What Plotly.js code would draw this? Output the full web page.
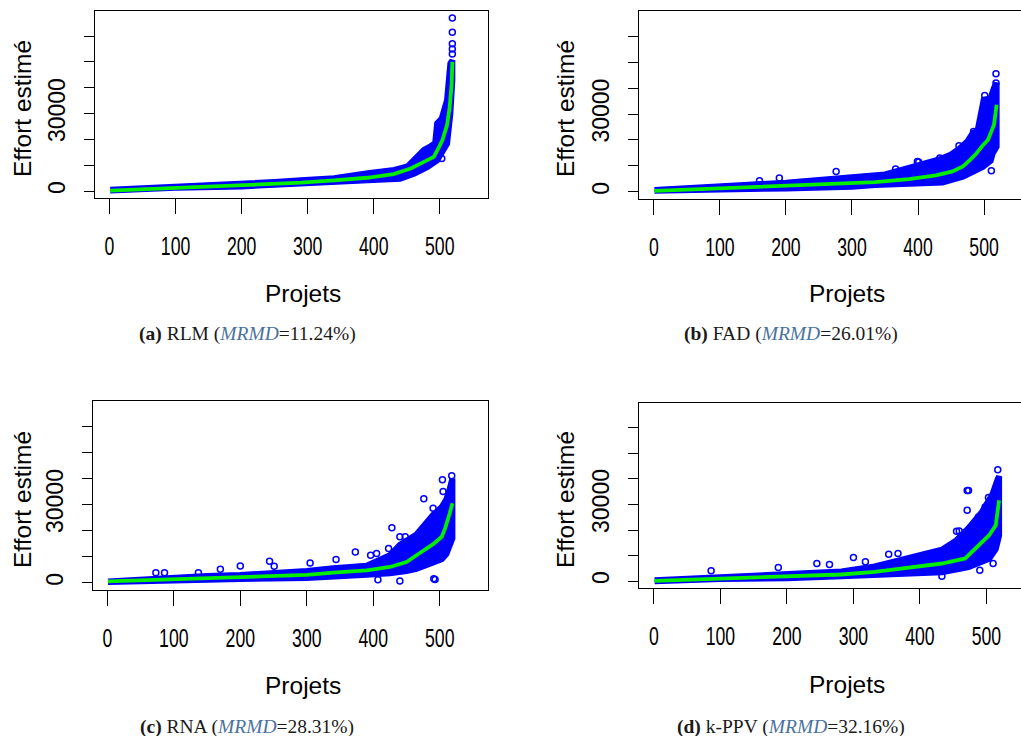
<!DOCTYPE html>
<html>
<head>
<meta charset="utf-8">
<script src="https://cdn.plot.ly/plotly-3.0.1.min.js"></script>
<style>
  html, body { margin:0; padding:0; background:#fff; overflow:hidden; width:1021px; height:736px; }
  #chart { width:1100px; height:736px; }
</style>
</head>
<body>
<div id="chart"></div>
<script>
// ---------- data ----------
const xTickVals = [0, 100, 200, 300, 400, 500];
const xTickText = ['0', '100', '200', '300', '400', '500'];
const yTickVals = [0, 10000, 20000, 30000, 40000, 50000, 60000];
const yTickText = ['0', '', '', '30000', '', '', ''];

const panelNames = ['RLM', 'FAD', 'RNA', 'k-PPV'];
const panelLetters = ['a', 'b', 'c', 'd'];
const panelMRMD = ['11.24%', '26.01%', '28.31%', '32.16%'];

// (a) RLM
const aGreenX = [1, 25, 50, 100, 150, 200, 250, 290, 340, 390, 430, 456, 476, 491, 499, 504, 511, 515, 518, 519];
const aGreenY = [200, 450, 750, 1300, 1650, 2050, 2650, 3250, 4130, 5150, 6560, 8760, 11300, 13250, 17100, 19700, 25500, 32500, 41600, 50000];
const aUpperX = [1, 50, 100, 150, 200, 250, 290, 340, 391, 431, 451, 466, 476, 486, 493, 496, 503, 511, 514, 516, 519];
const aUpperY = [500, 1000, 2000, 2400, 2850, 3500, 4150, 5000, 6900, 8200, 9500, 13100, 15900, 17300, 18500, 26200, 28100, 35200, 43600, 49400, 50600];
const aLowerX = [1, 100, 200, 300, 340, 391, 440, 461, 481, 496, 511, 516, 519];
const aLowerY = [260, 1260, 1810, 2860, 3460, 4160, 4760, 6660, 9260, 11860, 18260, 29960, 42860];
const aOutX = [519, 519, 519, 519, 519, 503];
const aOutY = [53000, 55000, 57000, 61500, 67000, 12600];

// (b) FAD
const bGreenX = [1, 50, 100, 150, 200, 250, 285, 335, 386, 427, 452, 468, 478, 488, 498, 506, 511, 515, 519];
const bGreenY = [300, 800, 1270, 1650, 2050, 2550, 3090, 3740, 4900, 6300, 7840, 9770, 12100, 14670, 17900, 20100, 23300, 25900, 33600];
const bUpperX = [1, 50, 100, 150, 200, 250, 300, 350, 386, 432, 450, 463, 475, 483, 490, 495, 500, 505, 510, 515, 519];
const bUpperY = [650, 1550, 2450, 2850, 3500, 4500, 5400, 6700, 9250, 12450, 14400, 16700, 19550, 22750, 23450, 31750, 36300, 34350, 36300, 40100, 42000];
const bLowerX = [1, 100, 200, 250, 300, 335, 386, 437, 468, 483, 498, 505, 510, 513, 519];
const bLowerY = [380, 880, 1270, 1300, 1900, 2600, 3200, 3600, 5800, 7700, 9600, 11000, 12000, 14800, 17400];
const bOutX = [160, 190, 276, 366, 399, 401, 433, 462, 484, 501, 511, 518, 518];
const bOutY = [4250, 5300, 7800, 8760, 11700, 11470, 13000, 17760, 23300, 37200, 8100, 42000, 45600];

// (c) RNA
const cGreenX = [1, 50, 100, 150, 200, 250, 300, 340, 390, 425, 450, 465, 480, 490, 503, 508, 515, 519];
const cGreenY = [500, 900, 1270, 1700, 2170, 2600, 3000, 3860, 4750, 6020, 7950, 10540, 12860, 14790, 17600, 20850, 26640, 30500];
const cUpperX = [1, 50, 100, 150, 200, 250, 300, 340, 390, 425, 440, 465, 480, 490, 503, 510, 515, 519];
const cUpperY = [500, 1300, 1950, 2550, 2950, 3600, 4500, 5500, 6500, 10500, 14500, 18500, 23000, 26000, 29000, 32000, 36000, 40000];
const cLowerX = [1, 100, 200, 300, 340, 390, 425, 450, 465, 480, 490, 503, 510, 515, 519];
const cLowerY = [300, 1000, 1400, 1800, 2400, 3000, 3600, 4500, 5300, 6500, 7800, 9000, 11000, 14300, 17000];
const cOutX = [73, 86, 137, 170, 200, 244, 251, 305, 344, 373, 396, 405, 423, 428, 440, 448, 476, 490, 504, 505, 518, 493, 440, 407, 491];
const cOutY = [3860, 3860, 3860, 5140, 6410, 8220, 6290, 7570, 8880, 11800, 10540, 11200, 13130, 21080, 17600, 17600, 32160, 28570, 39500, 35000, 41000, 1270, 620, 1160, 1540];

// (d) k-PPV
const dGreenX = [1, 50, 100, 150, 200, 250, 282, 332, 383, 433, 468, 484, 504, 514, 519];
const dGreenY = [120, 600, 1050, 1500, 1950, 2300, 2600, 3630, 5200, 6900, 8870, 12770, 17970, 21870, 31640];
const dUpperX = [1, 100, 200, 282, 332, 383, 433, 455, 473, 493, 509, 517, 519];
const dUpperY = [300, 1450, 2480, 3800, 5750, 9000, 12300, 16000, 20700, 27000, 34000, 40000, 41000];
const dLowerX = [1, 100, 200, 282, 332, 383, 433, 473, 488, 504, 514, 519];
const dLowerY = [0, 880, 1150, 1900, 2200, 2830, 3500, 5450, 6750, 8700, 12600, 17800];
const dOutX = [86, 187, 245, 264, 300, 318, 353, 367, 455, 459, 471, 473, 471, 488, 498, 503, 517, 510, 490, 433];
const dOutY = [4020, 5350, 6900, 6500, 9260, 7540, 10550, 10800, 19530, 19650, 35500, 35500, 27700, 25100, 29000, 32700, 43600, 6900, 4300, 1950];

// ---------- layout geometry (pixels in a 1100 x 736 canvas) ----------
const W = 1100, H = 736;
const boxes = [
  {l: 95,    r: 488,    t: 10.7,  b: 198.3},
  {l: 639.3, r: 1032.3, t: 11,    b: 199},
  {l: 92.7,  r: 488.3,  t: 400.7, b: 590},
  {l: 639.3, r: 1035,   t: 402.7, b: 588.3}
];
const yTitlePos = [[22, 109], [565, 109], [22, 500], [565, 500]];
const xTitlePos = [[302.5, 293], [846.7, 293], [302.5, 685], [846.7, 684]];
const capPos = [[247, 334], [791, 334], [247, 727], [791, 727]];

const BLUE = '#0000ff', GREEN = '#00ee00';
const series = [
  [aGreenX, aGreenY, aUpperX, aUpperY, aLowerX, aLowerY, aOutX, aOutY],
  [bGreenX, bGreenY, bUpperX, bUpperY, bLowerX, bLowerY, bOutX, bOutY],
  [cGreenX, cGreenY, cUpperX, cUpperY, cLowerX, cLowerY, cOutX, cOutY],
  [dGreenX, dGreenY, dUpperX, dUpperY, dLowerX, dLowerY, dOutX, dOutY]
];

const traces = [];
const layout = {
  width: W, height: H,
  margin: {l: 0, r: 0, t: 0, b: 0},
  paper_bgcolor: '#fff', plot_bgcolor: '#fff',
  showlegend: false,
  annotations: []
};
const tickFontX = {family: 'Liberation Sans, Arial, sans-serif', size: 26, color: '#000'};
const tickFontY = {family: 'Liberation Sans, Arial, sans-serif', size: 23, color: '#000'};
const titleFont = {family: 'Liberation Sans, Arial, sans-serif', size: 24.5, color: '#000'};

series.forEach((s, i) => {
  const [gx, gy, ux, uy, lx, ly, ox, oy] = s;
  const n = i + 1;
  const xa = 'x' + (n === 1 ? '' : n), ya = 'y' + (n === 1 ? '' : n);
  const bandX = ux.concat(lx.slice().reverse());
  const bandY = uy.concat(ly.slice().reverse());
  traces.push({type: 'scatter', mode: 'lines', x: bandX, y: bandY, fill: 'toself',
    fillcolor: BLUE, line: {color: BLUE, width: 6}, xaxis: xa, yaxis: ya, hoverinfo: 'skip'});
  traces.push({type: 'scatter', mode: 'markers', x: ox, y: oy, xaxis: xa, yaxis: ya,
    marker: {symbol: 'circle-open', size: 6, color: BLUE, line: {width: 1.5, color: BLUE}}});
  traces.push({type: 'scatter', mode: 'lines', x: gx, y: gy, xaxis: xa, yaxis: ya,
    line: {color: GREEN, width: 3.8}});

  const b = boxes[i];
  const axCommon = {showline: true, mirror: true, linecolor: '#000', linewidth: 1,
    showgrid: false, zeroline: false, ticks: 'outside', tickcolor: '#000', tickwidth: 1};
  layout['xaxis' + (n === 1 ? '' : n)] = Object.assign({}, axCommon, {
    domain: [b.l / W, b.r / W], anchor: ya, range: [-22, 573],
    tickmode: 'array', tickvals: xTickVals, ticktext: xTickText, ticklen: 15,
    tickfont: tickFontX, ticklabelstandoff: 10
  });
  layout['yaxis' + (n === 1 ? '' : n)] = Object.assign({}, axCommon, {
    domain: [1 - b.b / H, 1 - b.t / H], anchor: xa, range: [-2800, 69800],
    tickmode: 'array', tickvals: yTickVals, ticktext: yTickText, ticklen: 10,
    tickangle: -90, tickfont: tickFontY, ticklabelstandoff: 10
  });
  layout.annotations.push({xref: 'paper', yref: 'paper', x: yTitlePos[i][0] / W, y: 1 - yTitlePos[i][1] / H,
    text: 'Effort estimé', textangle: -90, showarrow: false, xanchor: 'center', yanchor: 'middle', font: titleFont});
  layout.annotations.push({xref: 'paper', yref: 'paper', x: xTitlePos[i][0] / W, y: 1 - xTitlePos[i][1] / H,
    text: 'Projets', showarrow: false, xanchor: 'center', yanchor: 'middle', font: titleFont});
  layout.annotations.push({xref: 'paper', yref: 'paper', x: capPos[i][0] / W, y: 1 - capPos[i][1] / H,
    text: '<b>(' + panelLetters[i] + ')</b> ' + panelNames[i] + ' (<i><span style="color:#4a72a0">MRMD</span></i>=' + panelMRMD[i] + ')',
    showarrow: false, xanchor: 'center', yanchor: 'middle',
    font: {family: 'Liberation Serif, Times New Roman, serif', size: 19.5, color: '#1a1a1a'}});
});

Plotly.newPlot('chart', traces, layout, {staticPlot: true, displayModeBar: false}).then(() => {
  // the reference draws the x tick numbers in a condensed face: narrow them horizontally
  document.querySelectorAll('#chart .xtick text, #chart .x2tick text, #chart .x3tick text, #chart .x4tick text').forEach(t => {
    const bb = t.getBBox();
    const cx = bb.x + bb.width / 2;
    const tr = t.getAttribute('transform') || '';
    t.setAttribute('transform', tr + ' translate(' + cx + ',0) scale(0.68,1) translate(' + (-cx) + ',0)');
  });
});
</script>
</body>
</html>
